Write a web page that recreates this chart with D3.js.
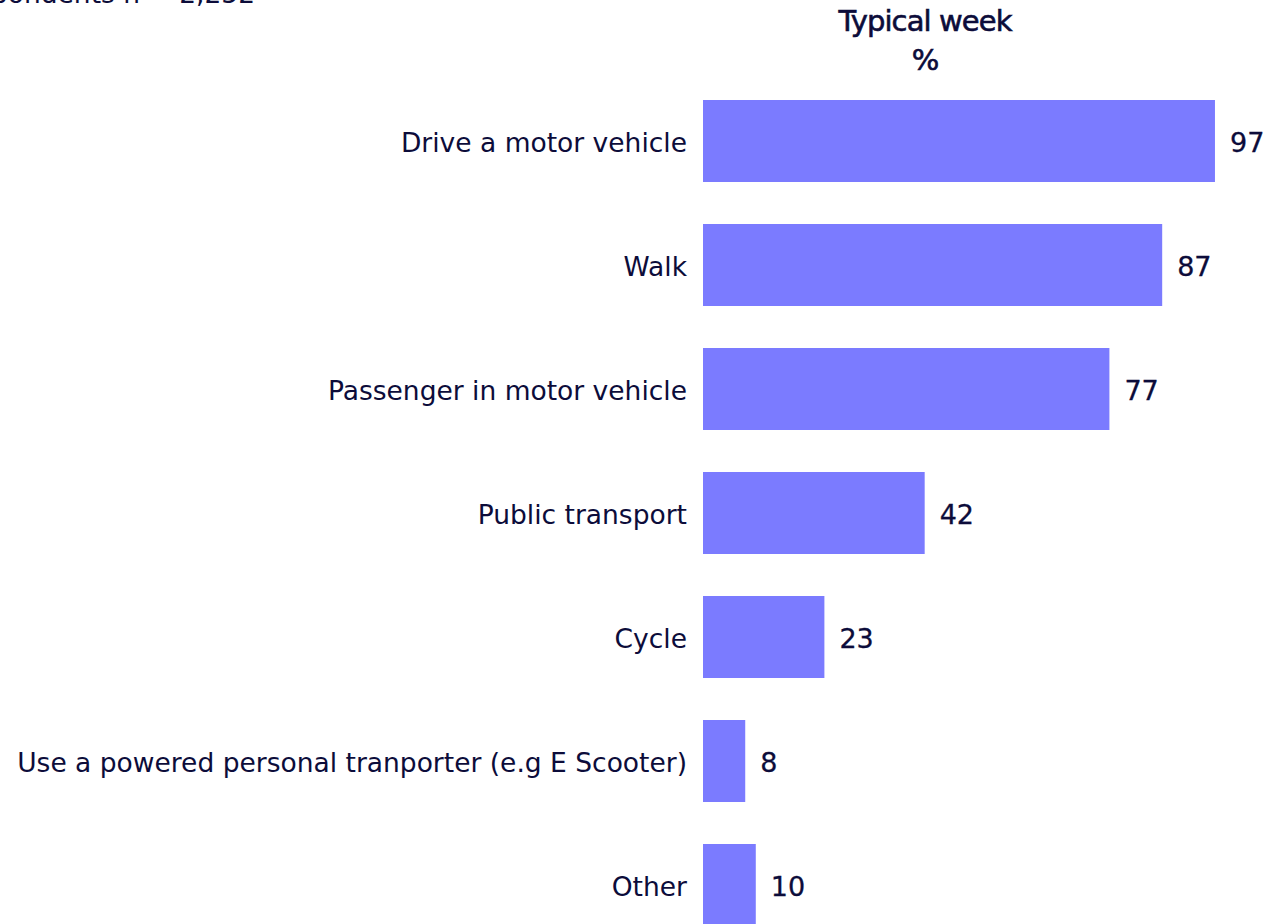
<!DOCTYPE html>
<html>
<head>
<meta charset="utf-8">
<script src="https://cdn.jsdelivr.net/npm/d3@7"></script>
<style>
  html, body { margin: 0; padding: 0; background: #ffffff; }
  svg { display: block; }
  text { font-family: "DejaVu Sans", "Liberation Sans", sans-serif; fill: #0c0c3a; }
</style>
</head>
<body>
<svg id="chart" width="1269" height="924"></svg>
<script>
// Modes of travel used in a typical week (% of respondents)
const categories = [
  "Drive a motor vehicle",
  "Walk",
  "Passenger in motor vehicle",
  "Public transport",
  "Cycle",
  "Use a powered personal tranporter (e.g E Scooter)",
  "Other"
];
const values = [97, 87, 77, 42, 23, 8, 10];
const columnTitle = ["Typical week", "%"];
const baseNote = "Base: All respondents n = 2,252";

const svg = d3.select("#chart");

const x = d3.scaleLinear().domain([0, 100]).range([703, 1230.8]);
const y = d3.scaleBand()
  .domain(categories)
  .range([79, 947])
  .paddingInner(42 / 124)
  .paddingOuter(21 / 124);

const rows = categories.map((c, i) => ({ cat: c, val: values[i] }));

// Base note, running off the top edge
svg.append("text")
  .attr("x", 255)
  .attr("y", 3)
  .attr("text-anchor", "end")
  .attr("font-size", 26.5)
  .text(baseNote);

// Column header
svg.selectAll("text.head")
  .data(columnTitle)
  .join("text")
  .attr("class", "head")
  .attr("x", 925)
  .attr("y", (d, i) => 31 + i * 39)
  .attr("text-anchor", "middle")
  .attr("font-family", "Liberation Sans, Arial, sans-serif")
  .attr("font-size", 29)
  .attr("letter-spacing", -0.9)
  .attr("stroke", "#0c0c3a")
  .attr("stroke-width", 0.6)
  .text(d => d);

// Bars
svg.selectAll("rect.bar")
  .data(rows)
  .join("rect")
  .attr("class", "bar")
  .attr("x", x(0))
  .attr("y", d => y(d.cat))
  .attr("width", d => x(d.val) - x(0))
  .attr("height", y.bandwidth())
  .attr("fill", "#7b7bff");

// Category labels
svg.selectAll("text.cat")
  .data(rows)
  .join("text")
  .attr("class", "cat")
  .attr("x", 687)
  .attr("y", d => y(d.cat) + y.bandwidth() / 2 + 11)
  .attr("text-anchor", "end")
  .attr("font-size", 26.5)
  .text(d => d.cat);

// Value labels
svg.selectAll("text.val")
  .data(rows)
  .join("text")
  .attr("class", "val")
  .attr("x", d => x(d.val) + 15)
  .attr("y", d => y(d.cat) + y.bandwidth() / 2 + 10.5)
  .attr("font-size", 27)
  .attr("stroke", "#0c0c3a")
  .attr("stroke-width", 0.3)
  .text(d => d.val);
</script>
</body>
</html>
